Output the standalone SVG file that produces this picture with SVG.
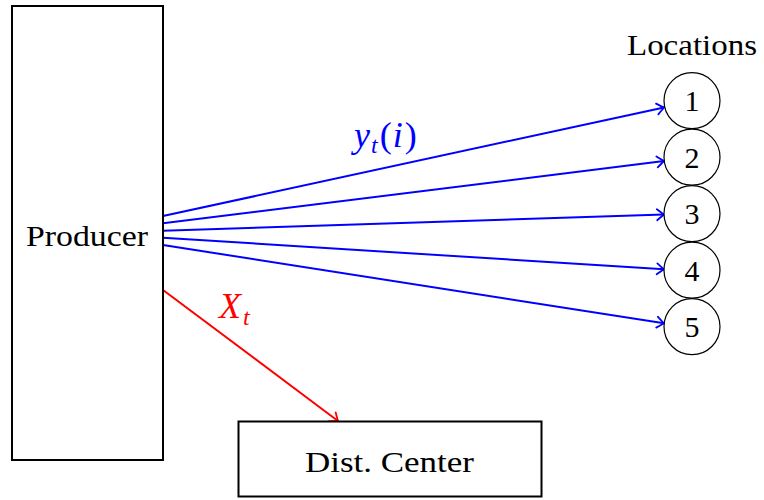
<svg xmlns="http://www.w3.org/2000/svg" width="764" height="500" viewBox="0 0 764 500">
  <style>
    .box { fill: #ffffff; stroke: #000000; stroke-width: 2; }
    .loc { fill: #ffffff; stroke: #000000; stroke-width: 1.2; }
    .lbl { font-family: "Liberation Serif", "Times New Roman", serif; font-size: 30px; fill: #000000; }
    .num { font-family: "Liberation Serif", "Times New Roman", serif; font-size: 30px; fill: #000000; text-anchor: middle; }
    .math { font-family: "Liberation Serif", "Times New Roman", serif; font-style: italic; font-size: 36px; }
    .blue { stroke: #0000ff; stroke-width: 2; fill: none; }
    .red { stroke: #ff0000; stroke-width: 2; fill: none; }
  </style>
  <defs>
    <marker id="tipBlue" markerUnits="userSpaceOnUse" markerWidth="16" markerHeight="16" viewBox="-10 -8 12 16" refX="0" refY="0" orient="auto" overflow="visible">
      <path d="M -7,-5.5 Q -2,-1.5 0,0 Q -2,1.5 -7,5.5" fill="none" stroke="#0000ff" stroke-width="1.8" stroke-linecap="round"/>
    </marker>
    <marker id="tipRed" markerUnits="userSpaceOnUse" markerWidth="16" markerHeight="16" viewBox="-10 -8 12 16" refX="0" refY="0" orient="auto" overflow="visible">
      <path d="M -7,-5.5 Q -2,-1.5 0,0 Q -2,1.5 -7,5.5" fill="none" stroke="#ff0000" stroke-width="1.8" stroke-linecap="round"/>
    </marker>
  </defs>

  <g id="connectors">
    <line class="blue" x1="163" y1="216" x2="664" y2="107.5" marker-end="url(#tipBlue)"/>
    <line class="blue" x1="163" y1="223.3" x2="664" y2="161" marker-end="url(#tipBlue)"/>
    <line class="blue" x1="163" y1="230.7" x2="664" y2="214.5" marker-end="url(#tipBlue)"/>
    <line class="blue" x1="163" y1="237.7" x2="664" y2="269.3" marker-end="url(#tipBlue)"/>
    <line class="blue" x1="163" y1="245" x2="664" y2="323.3" marker-end="url(#tipBlue)"/>
    <line class="red" x1="163" y1="290" x2="338" y2="421" marker-end="url(#tipRed)"/>
    <text class="math" x="354" y="147" fill="#0000ff" letter-spacing="1">y<tspan font-size="24" dy="6">t</tspan><tspan dy="-6" font-style="normal" dx="1">(</tspan>i<tspan font-style="normal" dx="1">)</tspan></text>
    <text class="math" x="219" y="318" fill="#ff0000" font-size="35">X<tspan font-size="24" dy="7" dx="2">t</tspan></text>
  </g>

  <g id="producer">
    <rect class="box" x="12" y="6" width="151" height="454"/>
    <text class="lbl" x="26" y="246" textLength="122" lengthAdjust="spacingAndGlyphs">Producer</text>
  </g>

  <g id="dist-center">
    <rect class="box" x="238.5" y="421.5" width="303" height="75"/>
    <text class="lbl" x="305" y="472" textLength="169" lengthAdjust="spacingAndGlyphs">Dist. Center</text>
  </g>

  <g id="locations-label">
    <text class="lbl" x="627" y="55" textLength="130" lengthAdjust="spacingAndGlyphs">Locations</text>
  </g>

  <g id="loc1">
    <circle class="loc" cx="692" cy="100.7" r="28"/>
    <text class="num" x="692" y="111">1</text>
  </g>
  <g id="loc2">
    <circle class="loc" cx="692" cy="157.2" r="28"/>
    <text class="num" x="692" y="167.5">2</text>
  </g>
  <g id="loc3">
    <circle class="loc" cx="692" cy="213.7" r="28"/>
    <text class="num" x="692" y="224">3</text>
  </g>
  <g id="loc4">
    <circle class="loc" cx="692" cy="270.2" r="28"/>
    <text class="num" x="692" y="280.5">4</text>
  </g>
  <g id="loc5">
    <circle class="loc" cx="692" cy="326.7" r="28"/>
    <text class="num" x="692" y="337">5</text>
  </g>
</svg>
